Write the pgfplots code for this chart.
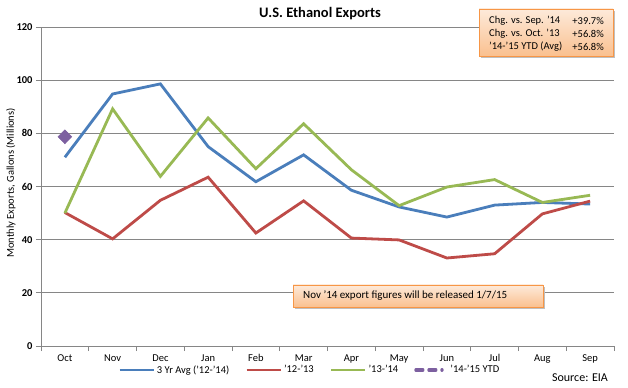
\documentclass[border=0pt]{standalone}
\usepackage{pgfplots}
\pgfplotsset{compat=1.18}
\usepackage{fontspec}
\setmainfont{Carlito}
\definecolor{cblue}{HTML}{4A7EBB}
\definecolor{cred}{HTML}{BE4B48}
\definecolor{cgreen}{HTML}{98B954}
\definecolor{cpurple}{HTML}{7D60A0}
\definecolor{boxorange}{HTML}{F79646}
\definecolor{boxtop}{HTML}{FDEADA}
\definecolor{boxbot}{HTML}{FAC08F}
\definecolor{gridgray}{HTML}{868686}
\pgfplotsset{
  purplelegend/.style={legend image code/.code={%
    \draw[cpurple, solid, line width=3.2bp, line cap=round, dash pattern=on 7bp off 6bp on 7bp off 6bp on 0.2bp off 30bp] (2bp,0bp) -- (33bp,0bp);}},
}
\begin{document}
\begin{tikzpicture}
\useasboundingbox (0,0) rectangle (628bp,388bp);
\begin{axis}[
  scale only axis, width=573bp, height=319bp,
  at={(41bp,42bp)}, anchor=south west,
  xmin=-0.5, xmax=11.5, ymin=0, ymax=120,
  ytick={0,20,...,120},
  xtick={-0.5,0.5,...,11.5},
  x tick label as interval,
  xticklabels={Oct,Nov,Dec,Jan,Feb,Mar,Apr,May,Jun,Jul,Aug,Sep},
  axis lines*=left,
  axis line style={gridgray, line width=0.8bp},
  tick style={gridgray, line width=0.8bp},
  tick align=outside, major tick length=5bp,
  ymajorgrids, grid style={gridgray, line width=0.8bp},
  yticklabel style={font=\fontsize{10.5bp}{12bp}\selectfont\bfseries},
  xticklabel style={font=\fontsize{10.5bp}{12bp}\selectfont},
  /pgf/number format/assume math mode=true,
  legend columns=4,
  legend style={at={(0.469,-0.075)}, anchor=center, draw=none, fill=none,
    font=\fontsize{10.5bp}{12bp}\selectfont,
    /tikz/every even column/.append style={column sep=14bp},
    inner sep=0pt},
  legend image code/.code={\draw[mark repeat=2,mark phase=2,#1] plot coordinates {(0bp,0bp) (17bp,0bp) (34bp,0bp)};},
  clip=false,
]
\addplot[cblue, line width=2.8bp] coordinates {
 (0,71) (1,94.8) (2,98.6) (3,75) (4,61.8) (5,71.9) (6,58.6) (7,52.3) (8,48.5) (9,53) (10,54) (11,53.4)};
\addlegendentry{3 Yr Avg ('12-'14)}
\addplot[cred, line width=2.8bp] coordinates {
 (0,50.2) (1,40.3) (2,54.8) (3,63.5) (4,42.5) (5,54.6) (6,40.6) (7,39.9) (8,33.1) (9,34.7) (10,49.7) (11,54.5)};
\addlegendentry{'12-'13}
\addplot[cgreen, line width=2.8bp] coordinates {
 (0,50) (1,89.2) (2,63.8) (3,85.8) (4,66.7) (5,83.6) (6,66.3) (7,52.8) (8,59.8) (9,62.6) (10,54) (11,56.7)};
\addlegendentry{'13-'14}
\addplot[cpurple, line width=3bp, mark=diamond*, mark size=7bp, mark options={solid, xscale=1.3, line width=0.5bp},
  purplelegend] coordinates {(0,78.7)};
\addlegendentry{'14-'15 YTD}
\end{axis}
% title
\node[font=\fontsize{14.5bp}{17bp}\selectfont\bfseries] at (320bp,374bp) {U.S. Ethanol Exports};
% y label
\node[rotate=90, font=\fontsize{10.5bp}{12bp}\selectfont] at (11bp,205bp) {Monthly Exports, Gallons (Millions)};
% source
\node[font=\fontsize{12bp}{14bp}\selectfont] at (580bp,10bp) {Source: EIA};
% top right box
\fill[black!25] (481bp,330bp) rectangle (615bp,377bp);
\shade[top color=boxtop, bottom color=boxbot, draw=boxorange, line width=0.8bp] (479bp,379bp) rectangle (613bp,332bp);
\begin{scope}[every node/.style={font=\fontsize{10.5bp}{12bp}\selectfont, inner sep=0pt}]
\node[anchor=west] at (489bp,367.3bp) {Chg. vs. Sep. '14};
\node[anchor=west] at (489bp,354.3bp) {Chg. vs. Oct. '13};
\node[anchor=west] at (489bp,341bp) {'14-'15 YTD (Avg)};
\node[anchor=east] at (604bp,367.3bp) {+39.7\%};
\node[anchor=east] at (604bp,354.3bp) {+56.8\%};
\node[anchor=east] at (604bp,341bp) {+56.8\%};
\end{scope}
% Nov box
\fill[black!25] (295bp,79bp) rectangle (545bp,101bp);
\shade[top color=boxtop, bottom color=boxbot, draw=boxorange, line width=0.8bp] (293bp,103bp) rectangle (543bp,81bp);
\node[anchor=west, inner sep=0pt, font=\fontsize{11bp}{13bp}\selectfont] at (303bp,92bp) {Nov '14 export figures will be released 1/7/15};
\end{tikzpicture}
\end{document}
